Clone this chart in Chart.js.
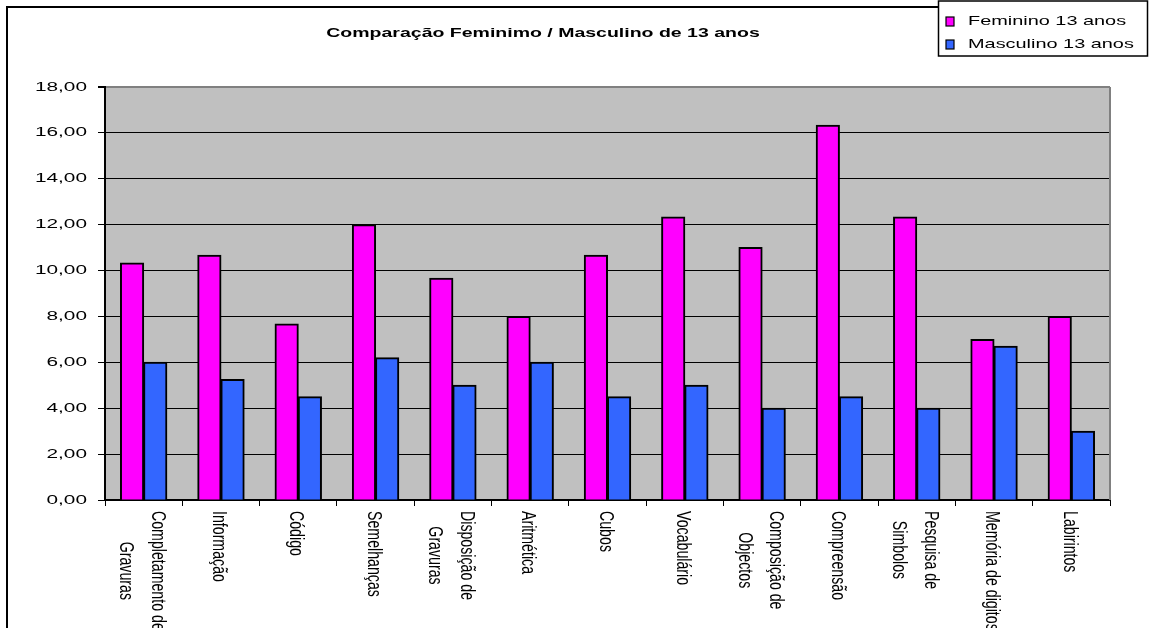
<!DOCTYPE html>
<html lang="pt">
<head>
<meta charset="utf-8">
<title>Comparação Feminimo / Masculino de 13 anos</title>
<script src="https://cdn.jsdelivr.net/npm/chart.js@4.4.1/dist/chart.umd.min.js"></script>
<style>
    html, body { margin: 0; padding: 0; background: #fff; }
    #wrap { width: 1154px; height: 628px; }
</style>
</head>
<body>
<div id="wrap"><canvas id="graficoTestes" width="1154" height="628"></canvas></div>
<script>
// Dados
const titulo = "Comparação Feminimo / Masculino de 13 anos";

const categorias = [
    ["Completamento de", "Gravuras"],
    "Informação",
    "Código",
    "Semelhanças",
    ["Disposição de", "Gravuras"],
    "Aritmética",
    "Cubos",
    "Vocabulário",
    ["Composição de", "Objectos"],
    "Compreensão",
    ["Pesquisa de", "Simbolos"],
    "Memória de digitos",
    "Labirintos"
];

const serieNomes = ["Feminino 13 anos", "Masculino 13 anos"];
const feminino  = [10.33, 10.67, 7.67, 12.00, 9.67, 8.00, 10.67, 12.33, 11.00, 16.33, 12.33, 7.00, 8.00];
const masculino = [6.00, 5.25, 4.50, 6.20, 5.00, 6.00, 4.50, 5.00, 4.00, 4.50, 4.00, 6.70, 3.00];

// eixo Y: 0,00 até 18,00 de 2 em 2
const yMin = 0;
const yMax = 18;
const yPasso = 2;

const cores = ["#FF00FF", "#3366FF"];

// a imagem original está esticada na horizontal
const esticar = 1.6;
const fonte = '"Liberation Sans", Arial, sans-serif';

document.addEventListener("DOMContentLoaded", () => {
    renderGrafico();
});

function formatarNumero(v) {
    return v.toFixed(2).replace(".", ",");
}

// fundo cinza, moldura, título, legenda e rótulos desenhados à mão
const pluginExcel = {
    id: "estiloExcel",
    beforeDraw(chart) {
        const { ctx, chartArea: a } = chart;
        ctx.save();
        ctx.fillStyle = "#fff";
        ctx.fillRect(0, 0, chart.width, chart.height);
        ctx.fillStyle = "#C0C0C0";
        ctx.fillRect(a.left, a.top, a.right - a.left, a.bottom - a.top);

        // moldura externa
        ctx.strokeStyle = "#000";
        ctx.lineWidth = 2;
        ctx.beginPath();
        ctx.moveTo(7, chart.height);
        ctx.lineTo(7, 7);
        ctx.lineTo(938, 7);
        ctx.stroke();
        ctx.restore();
    },
    afterDraw(chart) {
        const { ctx, chartArea: a } = chart;
        const yScale = chart.scales.y;
        const xScale = chart.scales.x;

        ctx.save();
        // borda direita cinza da área do gráfico
        ctx.strokeStyle = "#808080";
        ctx.lineWidth = 2;
        ctx.beginPath();
        ctx.moveTo(a.right, a.top);
        ctx.lineTo(a.right, a.bottom);
        ctx.stroke();

        ctx.fillStyle = "#000";

        // 1. Título
        ctx.save();
        ctx.font = "bold 13px " + fonte;
        ctx.textAlign = "center";
        ctx.textBaseline = "middle";
        ctx.translate(543, 33);
        ctx.scale(1.5, 1);
        ctx.fillText(titulo, 0, 0);
        ctx.restore();

        // 2. Rótulos do eixo Y
        ctx.font = "13px " + fonte;
        ctx.textBaseline = "middle";
        ctx.textAlign = "right";
        yScale.ticks.forEach(t => {
            const y = yScale.getPixelForValue(t.value);
            ctx.save();
            ctx.translate(a.left - 18, y);
            ctx.scale(esticar, 1);
            ctx.fillText(formatarNumero(t.value), 0, 0);
            ctx.restore();
        });

        // 3. Rótulos das categorias (rodados, de cima para baixo)
        ctx.font = "13.5px " + fonte;
        ctx.textAlign = "center";
        categorias.forEach((cat, i) => {
            const linhas = Array.isArray(cat) ? cat : [cat];
            const x = xScale.getPixelForTick(i);
            const maxW = Math.max(...linhas.map(l => ctx.measureText(l).width));
            ctx.save();
            ctx.translate(x, a.bottom + 11);
            ctx.rotate(Math.PI / 2);
            ctx.scale(1.05, 1.5);
            linhas.forEach((l, k) => {
                const v = (k - (linhas.length - 1) / 2) * 21 + 1.5;
                ctx.fillText(l, maxW / 2, v);
            });
            ctx.restore();
        });

        // 4. Legenda
        ctx.strokeStyle = "#000";
        ctx.lineWidth = 1.5;
        ctx.strokeRect(938.5, 1, 209, 55);
        ctx.font = "13px " + fonte;
        ctx.textAlign = "left";
        ctx.textBaseline = "middle";
        serieNomes.forEach((nome, k) => {
            const yc = 21.5 + k * 23;
            ctx.fillStyle = cores[k];
            ctx.fillRect(946, yc - 4.5, 8, 9);
            ctx.lineWidth = 1.2;
            ctx.strokeRect(946, yc - 4.5, 8, 9);
            ctx.fillStyle = "#000";
            ctx.save();
            ctx.translate(968, yc);
            ctx.scale(1.53, 1);
            ctx.fillText(nome, 0, 0);
            ctx.restore();
        });
        ctx.restore();
    }
};

function renderGrafico() {
    const ctx = document.getElementById("graficoTestes").getContext("2d");

    new Chart(ctx, {
        type: "bar",
        data: {
            labels: categorias,
            datasets: [
                {
                    label: serieNomes[0],
                    data: feminino,
                    backgroundColor: cores[0],
                    borderColor: "#000",
                    borderWidth: 2
                },
                {
                    label: serieNomes[1],
                    data: masculino,
                    backgroundColor: cores[1],
                    borderColor: "#000",
                    borderWidth: 2
                }
            ]
        },
        options: {
            responsive: false,
            animation: false,
            devicePixelRatio: 1,
            layout: {
                padding: { top: 87, left: 0, right: 44, bottom: 0 }
            },
            datasets: {
                bar: { categoryPercentage: 0.6, barPercentage: 1, inflateAmount: 0.5 }
            },
            plugins: {
                legend: { display: false },
                title: { display: false },
                tooltip: { enabled: false }
            },
            scales: {
                x: {
                    offset: true,
                    ticks: { display: false },
                    grid: {
                        offset: true,
                        drawOnChartArea: false,
                        drawTicks: true,
                        tickLength: 6,
                        color: "#000",
                        tickColor: "#000"
                    },
                    border: { display: true, color: "#000", width: 2 },
                    afterFit(scale) { scale.height = 128; }
                },
                y: {
                    min: yMin,
                    max: yMax,
                    ticks: { display: false, stepSize: yPasso },
                    grid: {
                        color: c => (c.tick && c.tick.value === yMax) ? "#808080" : "#000",
                        tickColor: "#000",
                        tickLength: 7,
                        lineWidth: c => (c.tick && c.tick.value === yMax) ? 2 : 1
                    },
                    border: { display: true, color: "#000", width: 2 },
                    afterFit(scale) { scale.width = 105; }
                }
            }
        },
        plugins: [pluginExcel]
    });
}
</script>
</body>
</html>
